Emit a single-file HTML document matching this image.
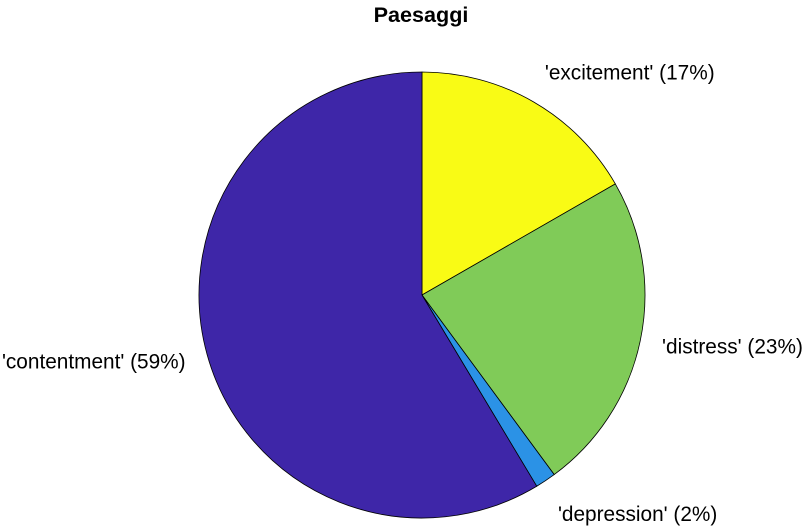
<!DOCTYPE html>
<html><head><meta charset="utf-8"><style>
body{margin:0;background:#fff;}
svg{display:block;font-family:"Liberation Sans",sans-serif;}
</style></head><body>
<svg id="chart" width="805" height="528">
<text x="421" y="22" text-anchor="middle" font-weight="bold" font-size="21.6">Paesaggi</text>
<g id="slices"></g><g id="labels"></g>
</svg>
<script>
const categories = ['excitement','distress','depression','contentment'];
const values = [0.167, 0.232, 0.015, 0.586];
const pctLabels = ['17%','23%','2%','59%'];
const colors = ['#f9fb15','#80cb58','#2b92e6','#3e26a8'];
const cx=422, cy=295, R=223;
const NS='http://www.w3.org/2000/svg';
const total=values.reduce((a,b)=>a+b,0);
function pt(frac,r){const a=frac*2*Math.PI;return [cx+r*Math.sin(a), cy-r*Math.cos(a)];}
let cum=0;
const gs=document.getElementById('slices'), gl=document.getElementById('labels');
values.forEach((v,i)=>{
  const f0=cum/total, f1=(cum+v)/total; cum+=v;
  const [x0,y0]=pt(f0,R),[x1,y1]=pt(f1,R);
  const large=(f1-f0)>0.5?1:0;
  const p=document.createElementNS(NS,'path');
  p.setAttribute('d',`M${cx},${cy} L${x0},${y0} A${R},${R} 0 ${large} 1 ${x1},${y1} Z`);
  p.setAttribute('fill',colors[i]);p.setAttribute('stroke','#000');p.setAttribute('stroke-width','0.8');
  
  
  gs.appendChild(p);
  const fm=(f0+f1)/2;
  const [lx,ly]=pt(fm,R*1.1);
  const t=document.createElementNS(NS,'text');
  t.textContent="'"+categories[i]+"' ("+pctLabels[i]+")";
  t.setAttribute('font-size','20.8');
  const sx=Math.sin(fm*2*Math.PI), cyv=-Math.cos(fm*2*Math.PI);
  t.setAttribute('text-anchor', sx>=0?'start':'end');
  t.setAttribute('x', lx);
  let dy = cyv<-0.5 ? -3 : (cyv>0.5 ? 22 : 8);
  t.setAttribute('y', ly+dy);
  
  
  gl.appendChild(t);
});
</script>
</body></html>
